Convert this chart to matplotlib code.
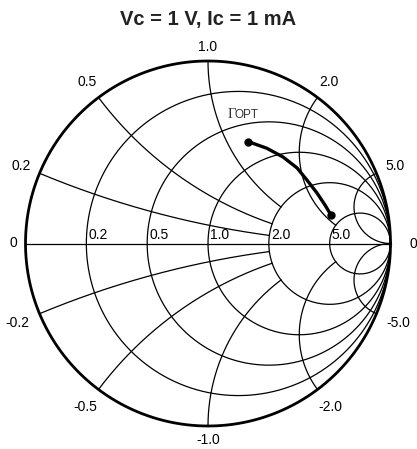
import numpy as np
import matplotlib
matplotlib.use("Agg")
import matplotlib.pyplot as plt

plt.rcParams['font.family'] = ['Liberation Sans', 'DejaVu Sans']

# grid values of the chart
r_values = [0.2, 0.5, 1.0, 2.0, 5.0]
x_values = [0.2, 0.5, 1.0, 2.0, 5.0]
# resistance where each reactance arc stops (None = runs to the edge)
x_stop = {0.2: 2.0, 0.5: 2.0, 1.0: 2.0, 2.0: 5.0, 5.0: None}

gopt_re = [0.221, 0.322, 0.411, 0.488, 0.542, 0.597, 0.641, 0.674]
gopt_im = [0.558, 0.522, 0.474, 0.414, 0.348, 0.277, 0.211, 0.156]

title = "Vc = 1 V, Ic = 1 mA"


def gamma(z):
    return (z - 1) / (z + 1)


# figure 417x449 px, chart centre at (208, 243.5) px, radius 182.5 px
W, H, R = 417, 449, 182.5
cx, cy = 208, 243.5
fig = plt.figure(figsize=(W / 100, H / 100), dpi=100)
ax = fig.add_axes([0, 0, 1, 1])
ax.set_xlim(-cx / R, (W - cx) / R)
ax.set_ylim(-(H - cy) / R, cy / R)
ax.set_aspect('equal')
ax.axis('off')

lw = 0.9
# outer circle
t = np.linspace(0, 2 * np.pi, 600)
ax.plot(np.cos(t), np.sin(t), color='black', lw=2.0, zorder=3)
# real axis
ax.plot([-1, 1], [0, 0], color='black', lw=lw)

# constant resistance circles
xs = np.tan(np.linspace(-np.pi / 2 + 1e-4, np.pi / 2 - 1e-4, 800))
for r in r_values:
    g = gamma(r + 1j * xs)
    ax.plot(g.real, g.imag, color='black', lw=lw)

# constant reactance arcs
for x in x_values:
    stop = x_stop[x]
    if stop is None:
        rs = np.tan(np.linspace(0, np.pi / 2 - 1e-4, 600))
    else:
        rs = np.linspace(0, stop, 600)
    for s in (1, -1):
        g = gamma(rs + 1j * s * x)
        ax.plot(g.real, g.imag, color='black', lw=lw)

# labels on the real axis
for r in r_values:
    u = gamma(r).real
    ax.text(u + 0.012, 0.006, f"{r:.1f}", ha='left', va='bottom', fontsize=10)

# labels around the rim
def rim_label(g, txt, extra=0.0):
    ang = np.angle(g)
    w = len(txt) * 3.6 / R
    h = 5.5 / R
    d = 1.045 + extra + w * abs(np.cos(ang)) + h * abs(np.sin(ang))
    ax.text(d * np.cos(ang), d * np.sin(ang), txt, ha='center', va='center',
            fontsize=10)

for x in x_values:
    rim_label(gamma(1j * x), f"{x:.1f}")
    rim_label(gamma(-1j * x), f"-{x:.1f}")
rim_label(-1 + 0j, "0")
rim_label(1 + 0j, "0", extra=0.06)

# Gamma_opt trace
ax.plot(gopt_re, gopt_im, color='black', lw=2.4, solid_capstyle='round', zorder=4)
ax.plot([gopt_re[0], gopt_re[-1]], [gopt_im[0], gopt_im[-1]], 'o',
        color='black', ms=5, zorder=5)
ax.text(0.105, 0.685, "Γ", family='Liberation Serif', fontsize=10.5,
        color='#333333', ha='left', va='baseline')
ax.text(0.147, 0.685, "OPT", fontsize=8.5, color='#333333',
        ha='left', va='baseline')

ax.text(0, (cy - 20) / R, title, ha='center', va='center', fontsize=14.5,
        fontweight='bold', color='#222222')

fig.savefig("out.png", dpi=100)
